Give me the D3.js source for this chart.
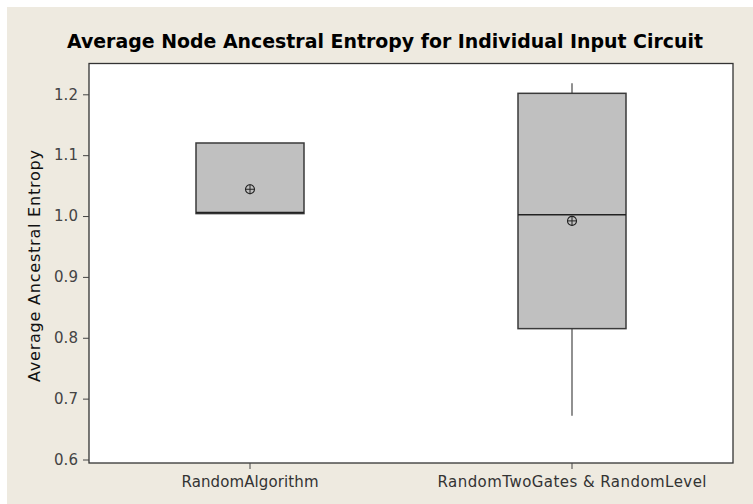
<!doctype html>
<html>
<meta charset="utf-8">
<head>
<script src="https://cdn.jsdelivr.net/npm/d3@7"></script>
<style>
  body { margin: 0; background: #fff; }
  text { font-family: Tahoma, "DejaVu Sans", sans-serif; }
</style>
</head>
<body>
<script>
// data
var groups = ["RandomAlgorithm", "RandomTwoGates & RandomLevel"];
var whiskerLo = [1.004, 0.672];
var q1 = [1.004, 0.815];
var median = [1.006, 1.002];
var q3 = [1.120, 1.2016];
var whiskerHi = [1.120, 1.218];
var means = [1.044, 0.992];
var yTicks = [0.6, 0.7, 0.8, 0.9, 1.0, 1.1, 1.2];
// label widths measured on the reference
var xLabelWidths = [137, 269];

var width = 753, height = 504;
var plotL = 89, plotR = 733, plotT = 63.5, plotB = 463;

var svg = d3.select("body").append("svg")
  .attr("width", width)
  .attr("height", height);

// beige panel
svg.append("rect")
  .attr("x", 7).attr("y", 7)
  .attr("width", width - 7).attr("height", height - 7)
  .attr("fill", "#eeeae0");

// plot area
svg.append("rect")
  .attr("x", plotL).attr("y", plotT)
  .attr("width", plotR - plotL).attr("height", plotB - plotT)
  .attr("fill", "#fff");

var x = d3.scaleBand().domain(groups).range([plotL, plotR]).padding(0);
var y = d3.scaleLinear().domain([0.6, 1.2]).range([459.5, 94.3]);
var boxW = 108;

var data = groups.map(function(g, i) {
  return {g: g, lo: whiskerLo[i], q1: q1[i], med: median[i], q3: q3[i], hi: whiskerHi[i], mean: means[i]};
});

var boxes = svg.append("g").selectAll("g").data(data).enter().append("g")
  .attr("transform", function(d) { return "translate(" + (x(d.g) + x.bandwidth() / 2) + ",0)"; });

// whiskers
boxes.append("line")
  .attr("x1", 0).attr("x2", 0)
  .attr("y1", function(d) { return y(d.hi); })
  .attr("y2", function(d) { return y(d.q3); })
  .attr("stroke", "#555").attr("stroke-width", 1.3);
boxes.append("line")
  .attr("x1", 0).attr("x2", 0)
  .attr("y1", function(d) { return y(d.q1); })
  .attr("y2", function(d) { return y(d.lo); })
  .attr("stroke", "#555").attr("stroke-width", 1.3);

boxes.append("rect")
  .attr("x", -boxW / 2)
  .attr("width", boxW)
  .attr("y", function(d) { return y(d.q3); })
  .attr("height", function(d) { return y(d.q1) - y(d.q3); })
  .attr("fill", "#c0c0c0")
  .attr("stroke", "#3a3a3a")
  .attr("stroke-width", 1.5);

boxes.append("line")
  .attr("x1", -boxW / 2).attr("x2", boxW / 2)
  .attr("y1", function(d) { return y(d.med); })
  .attr("y2", function(d) { return y(d.med); })
  .attr("stroke", "#222").attr("stroke-width", 1.5);

// mean symbol (circle with cross)
var m = boxes.append("g")
  .attr("transform", function(d) { return "translate(0," + y(d.mean) + ")"; });
m.append("circle").attr("r", 4.5).attr("fill", "none").attr("stroke", "#222").attr("stroke-width", 1.1);
m.append("line").attr("x1", -5).attr("x2", 5).attr("stroke", "#222").attr("stroke-width", 1);
m.append("line").attr("y1", -5).attr("y2", 5).attr("stroke", "#222").attr("stroke-width", 1);

// frame
svg.append("rect")
  .attr("x", plotL).attr("y", plotT)
  .attr("width", plotR - plotL).attr("height", plotB - plotT)
  .attr("fill", "none").attr("stroke", "#333").attr("stroke-width", 1.3);

// y axis
var yAxis = svg.append("g")
  .attr("transform", "translate(" + plotL + ",0)")
  .call(d3.axisLeft(y).tickValues(yTicks).tickFormat(d3.format(".1f")).tickSize(6).tickPadding(5));
yAxis.select(".domain").remove();
yAxis.selectAll("line").attr("stroke", "#444");
yAxis.selectAll("text").attr("fill", "#444").style("font-size", "15px")
  .attr("textLength", 24).attr("lengthAdjust", "spacing");

// x axis
var xAxis = svg.append("g")
  .attr("transform", "translate(0," + plotB + ")")
  .call(d3.axisBottom(x).tickSize(6).tickPadding(7));
xAxis.select(".domain").remove();
xAxis.selectAll("line").attr("stroke", "#444");
xAxis.selectAll("text").attr("fill", "#333").style("font-size", "15px")
  .attr("textLength", function(d, i) { return xLabelWidths[i]; })
  .attr("lengthAdjust", "spacing");

// y label
svg.append("text")
  .attr("transform", "translate(40,266) rotate(-90)")
  .attr("text-anchor", "middle")
  .attr("fill", "#111")
  .style("font-size", "16px")
  .attr("textLength", 232).attr("lengthAdjust", "spacing")
  .text("Average Ancestral Entropy");

// title
svg.append("text")
  .attr("x", 385).attr("y", 48)
  .attr("text-anchor", "middle")
  .attr("fill", "#000")
  .style("font-size", "19px")
  .style("font-weight", "bold")
  .attr("textLength", 636).attr("lengthAdjust", "spacingAndGlyphs")
  .text("Average Node Ancestral Entropy for Individual Input Circuit");
</script>
</body>
</html>
